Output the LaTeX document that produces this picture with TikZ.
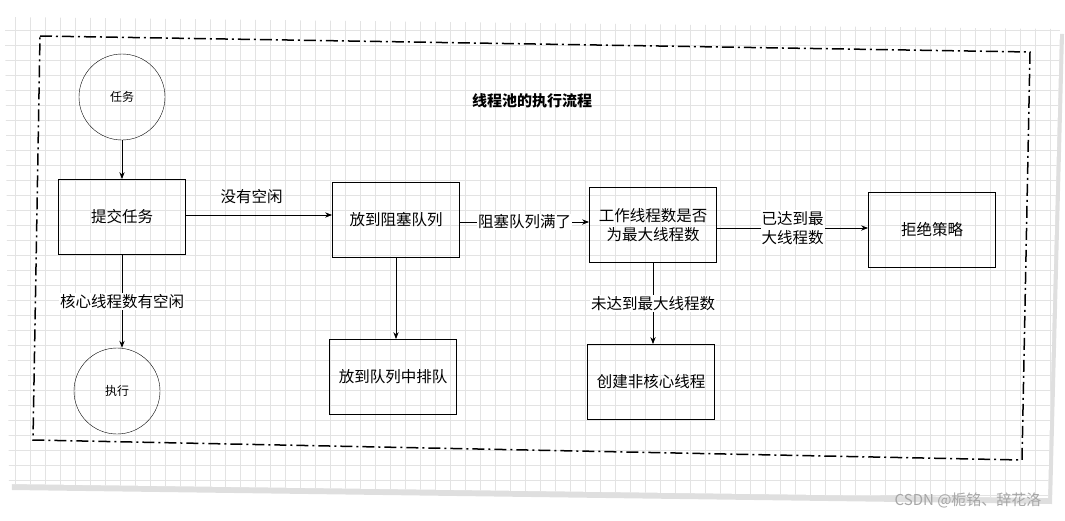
\documentclass[tikz,border=0pt]{standalone}
\usepackage{fontspec}
\setmainfont{Noto Sans CJK SC}
\usetikzlibrary{arrows.meta}
\tikzset{
 box/.style={draw,thick,minimum width=127pt,minimum height=75pt,align=center,font=\fontsize{15.5}{19}\selectfont},
 circ/.style={draw,circle,minimum size=86pt,font=\fontsize{12}{14}\selectfont},
 arr/.style={-{Stealth[length=7pt]},thick},
 lbl/.style={font=\fontsize{15.5}{19}\selectfont,align=center},
 lblw/.style={lbl,fill=white,inner sep=1pt}
}
\begin{document}
\begin{tikzpicture}[x=1pt,y=-1pt]
\useasboundingbox (0,0) rectangle (1065,520);
\fill[gray!25] (8,22)--(1064,34)--(1052,504)--(12,490)--cycle;
\fill[white] (5,17)--(1060,29)--(1048,498)--(9,484)--cycle;
\begin{scope}
\clip (5,17)--(1060,29)--(1048,498)--(9,484)--cycle;
\draw[gray!22,step=15pt] (0,0) grid (1065,520);
\end{scope}
\draw[line width=1.5pt,dash pattern=on 12pt off 4pt on 2pt off 4pt] (40,36)--(1030,52)--(1022,460)--(33,440)--cycle;
\node[font=\bfseries\fontsize{15}{18}\selectfont] (t) at (532,101) {线程池的执行流程};
\node[circ] (rw) at (122,97) {任务};
\node[circ] (zx) at (117,391) {执行};
\node[box] (tj) at (122,217) {提交任务};
\node[box] (zs) at (396,220) {放到阻塞队列};
\node[box] (pd) at (393,377) {放到队列中排队};
\node[box] (gz) at (653,225) {工作线程数是否\\为最大线程数};
\node[box] (cj) at (651,382) {创建非核心线程};
\node[box] (jj) at (932,230) {拒绝策略};
\draw[arr] (rw) -- (rw|-tj.north);
\draw[arr] (tj.south) -- (tj.south|-zx.north) node[lblw,midway] {核心线程数有空闲};
\draw[arr] (tj.east|-0,215) -- (zs.west|-0,215) node[lbl,pos=0.45,above=8pt] {没有空闲};
\draw[arr] (zs.east|-0,222) -- (gz.west|-0,222) node[lblw,midway] {阻塞队列满了};
\draw[arr] (zs.south) -- (zs.south|-pd.north);
\draw[arr] (gz.east|-0,228) -- (jj.west|-0,228) node[lblw,midway] {已达到最\\大线程数};
\draw[arr] (gz.south) -- (gz.south|-cj.north) node[lblw,midway] {未达到最大线程数};
\node[text=gray!70,font=\fontsize{15}{18}\selectfont,anchor=east] (wm) at (1045,500) {CSDN @栀铭、辞花洛};
\end{tikzpicture}
\end{document}
